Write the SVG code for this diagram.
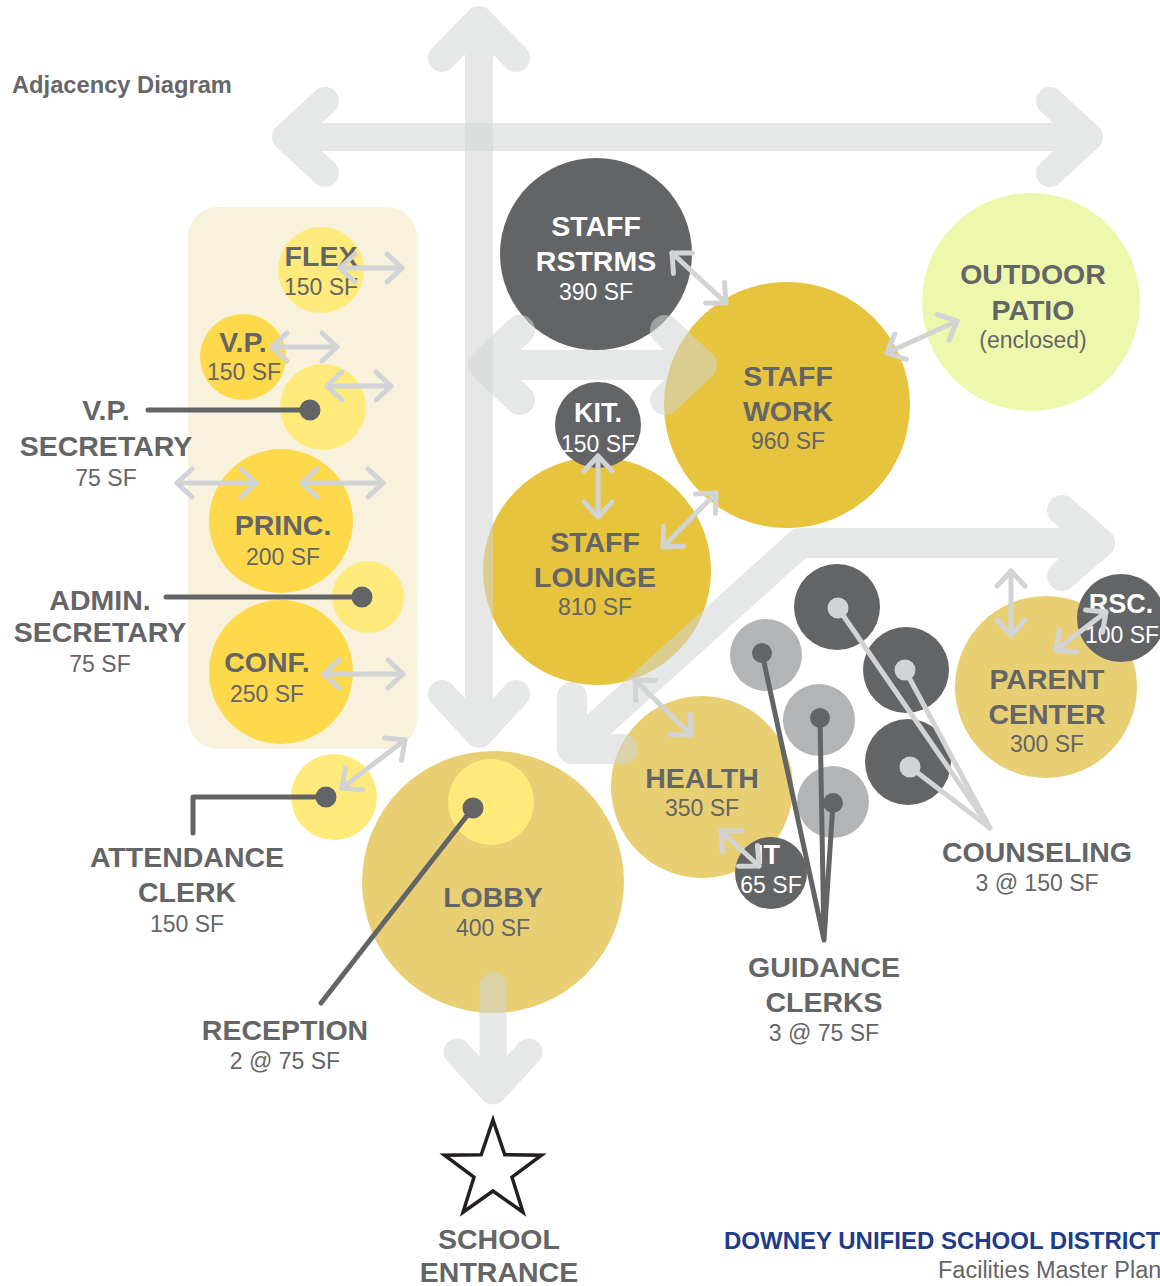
<svg xmlns="http://www.w3.org/2000/svg" width="1160" height="1286" viewBox="0 0 1160 1286">
  <style>
    text { font-family: "Liberation Sans", Arial, Helvetica, sans-serif; }
    .lbl { font-weight: bold; font-size: 28.5px; fill: #646567; text-anchor: middle; }
    .sf { font-size: 23px; fill: #646567; text-anchor: middle; }
    .sm { font-size: 27px; }
    .w { fill: #ffffff; }
    .dark { fill: #636466; }
    .gold { fill: #e6c43e; }
    .tan { fill: #e8cf73; }
    .amber { fill: #ffd94c; }
    .pale { fill: #ffea7b; }
    .patio { fill: #eef8ad; }
    .gray { fill: #b3b4b6; }
    .flow { fill: none; stroke: #d2d6d4; stroke-linecap: round; stroke-linejoin: round; }
    .link { fill: none; stroke: #d1d3d4; stroke-width: 5; stroke-linecap: round; marker-start: url(#ah); marker-end: url(#ah); }
    .lead { fill: none; stroke: #636466; stroke-width: 5; stroke-linecap: round; stroke-linejoin: round; }
    .leadlt { fill: none; stroke: #d1d3d4; stroke-width: 5; stroke-linecap: round; }
  </style>
  <defs>
    <marker id="ah" markerUnits="userSpaceOnUse" markerWidth="40" markerHeight="40" viewBox="-20 -20 40 40" refX="0" refY="0" orient="auto-start-reverse" overflow="visible">
      <path d="M-15,-14 L0,0 L-15,14" fill="none" stroke="#d1d3d4" stroke-width="5" stroke-linecap="round" stroke-linejoin="round"/>
    </marker>
  </defs>

  <rect width="1160" height="1286" fill="#ffffff"/>

  <text x="12" y="93" font-size="23.7" font-weight="bold" fill="#666769">Adjacency Diagram</text>

  <!-- administration suite backdrop -->
  <rect id="admin-suite" x="188" y="207" width="229" height="542" rx="30" fill="#f8f2dc"/>

  <!-- rooms -->
  <g id="staff-rstrms">
    <circle class="dark" cx="596" cy="254" r="96"/>
    <text class="lbl w" x="596" y="236">STAFF</text>
    <text class="lbl w" x="596" y="271">RSTRMS</text>
    <text class="sf w" x="596" y="300">390 SF</text>
  </g>
  <g id="staff-work">
    <circle class="gold" cx="787" cy="405" r="123"/>
    <text class="lbl" x="788" y="386">STAFF</text>
    <text class="lbl" x="788" y="421">WORK</text>
    <text class="sf" x="788" y="449">960 SF</text>
  </g>
  <g id="outdoor-patio">
    <circle class="patio" cx="1031" cy="302" r="109"/>
    <text class="lbl" x="1033" y="284" font-size="29.5">OUTDOOR</text>
    <text class="lbl" x="1033" y="320" font-size="29.5">PATIO</text>
    <text class="sf" x="1033" y="348">(enclosed)</text>
  </g>
  <g id="staff-lounge">
    <circle class="gold" cx="597" cy="571" r="114"/>
    <text class="lbl" x="595" y="552">STAFF</text>
    <text class="lbl" x="595" y="587">LOUNGE</text>
    <text class="sf" x="595" y="615">810 SF</text>
  </g>
  <g id="kit">
    <circle class="dark" cx="598" cy="425" r="43"/>
    <text class="lbl sm w" x="598" y="422">KIT.</text>
    <text class="sf w" x="598" y="452">150 SF</text>
  </g>
  <g id="flex">
    <circle class="pale" cx="321" cy="270" r="43"/>
    <text class="lbl" x="321" y="266">FLEX</text>
    <text class="sf" x="321" y="295">150 SF</text>
  </g>
  <g id="vp">
    <circle class="amber" cx="243" cy="357" r="43"/>
    <text class="lbl" x="243" y="352">V.P.</text>
    <text class="sf" x="244" y="380">150 SF</text>
  </g>
  <g id="vp-secretary">
    <circle class="pale" cx="323" cy="407" r="43"/>
    <text class="lbl" x="106" y="420">V.P.</text>
    <text class="lbl" x="106" y="456">SECRETARY</text>
    <text class="sf" x="106" y="486">75 SF</text>
  </g>
  <g id="princ">
    <circle class="amber" cx="281" cy="521" r="72"/>
    <text class="lbl" x="283" y="535">PRINC.</text>
    <text class="sf" x="283" y="565">200 SF</text>
  </g>
  <g id="admin-secretary">
    <circle class="pale" cx="368" cy="597" r="36"/>
    <text class="lbl" x="100" y="610">ADMIN.</text>
    <text class="lbl" x="100" y="642">SECRETARY</text>
    <text class="sf" x="100" y="672">75 SF</text>
  </g>
  <g id="conf">
    <circle class="amber" cx="281" cy="672" r="72"/>
    <text class="lbl" x="267" y="672">CONF.</text>
    <text class="sf" x="267" y="702">250 SF</text>
  </g>
  <g id="attendance-clerk">
    <circle class="pale" cx="334" cy="797" r="43"/>
    <text class="lbl" x="187" y="867">ATTENDANCE</text>
    <text class="lbl" x="187" y="902">CLERK</text>
    <text class="sf" x="187" y="932">150 SF</text>
  </g>
  <g id="lobby">
    <circle class="tan" cx="493" cy="882" r="131"/>
    <text class="lbl" x="493" y="907">LOBBY</text>
    <text class="sf" x="493" y="936">400 SF</text>
  </g>
  <g id="reception">
    <circle class="pale" cx="491" cy="802" r="43"/>
    <text class="lbl" x="285" y="1040">RECEPTION</text>
    <text class="sf" x="285" y="1069">2 @ 75 SF</text>
  </g>
  <g id="health">
    <circle class="tan" cx="702" cy="787" r="91"/>
    <text class="lbl" x="702" y="788">HEALTH</text>
    <text class="sf" x="702" y="816">350 SF</text>
  </g>
  <g id="it">
    <circle class="dark" cx="771" cy="873" r="36"/>
    <text class="lbl sm w" x="768" y="864">IT</text>
    <text class="sf w" x="771" y="893">65 SF</text>
  </g>
  <g id="parent-center">
    <circle class="tan" cx="1046" cy="687" r="91"/>
    <text class="lbl" x="1047" y="689">PARENT</text>
    <text class="lbl" x="1047" y="724">CENTER</text>
    <text class="sf" x="1047" y="752">300 SF</text>
  </g>
  <g id="rsc">
    <circle class="dark" cx="1121" cy="618" r="44"/>
    <text class="lbl sm w" x="1121" y="613">RSC.</text>
    <text class="sf w" x="1122" y="643">100 SF</text>
  </g>
  <g id="counseling">
    <circle class="dark" cx="837" cy="607" r="43"/>
    <circle class="dark" cx="906" cy="670" r="43"/>
    <circle class="dark" cx="908" cy="762" r="43"/>
    <text class="lbl" x="1037" y="862">COUNSELING</text>
    <text class="sf" x="1037" y="891">3 @ 150 SF</text>
  </g>
  <g id="guidance-clerks">
    <circle class="gray" cx="766" cy="655" r="36"/>
    <circle class="gray" cx="819" cy="720" r="36"/>
    <circle class="gray" cx="833" cy="802" r="36"/>
    <text class="lbl" x="824" y="977">GUIDANCE</text>
    <text class="lbl" x="824" y="1012">CLERKS</text>
    <text class="sf" x="824" y="1041">3 @ 75 SF</text>
  </g>
  <g id="school-entrance">
    <polygon points="493,1120 504.8,1154.8 541.5,1155.2 512,1177.2 523,1212.3 493,1191 463,1212.3 474,1177.2 444.5,1155.2 481.2,1154.8" fill="#ffffff" stroke="#231f20" stroke-width="3.5" stroke-linejoin="miter"/>
    <text class="lbl" x="499" y="1249">SCHOOL</text>
    <text class="lbl" x="499" y="1282">ENTRANCE</text>
  </g>

  <g id="connectors">
    <!-- circulation flows -->
    <g opacity="0.55">
      <path class="flow" stroke-width="28" d="M479,20 L479,732 M442,58 L479,20 L516,58 M442,694 L479,734 L516,694"/>
    </g>
    <g opacity="0.55">
      <path class="flow" stroke-width="28" d="M286,137 L1089,137 M325,101 L286,137 L325,173 M1050,101 L1089,137 L1050,173"/>
    </g>
    <g opacity="0.55">
      <path class="flow" stroke-width="30" d="M483,365 L702,365 M520,330 L483,365 L520,400 M665,330 L702,365 L665,400"/>
    </g>
    <g opacity="0.55">
      <path class="flow" stroke-width="30" d="M576,745 L800,543 L1099,543 M572,697 L572,749 L623,749 M1062,510 L1100,543 L1062,576"/>
    </g>
    <g opacity="0.55">
      <path class="flow" stroke-width="27" d="M493,986 L493,1089 M457,1052 L493,1091 L529,1052"/>
    </g>

    <!-- adjacency links -->
    <line class="link" x1="340" y1="268" x2="402" y2="268"/>
    <line class="link" x1="272" y1="347" x2="337" y2="347"/>
    <line class="link" x1="327" y1="386" x2="391" y2="386"/>
    <line class="link" x1="177" y1="483" x2="256" y2="483"/>
    <line class="link" x1="302" y1="483" x2="383" y2="483"/>
    <line class="link" x1="324" y1="674" x2="403" y2="674"/>
    <line class="link" x1="342" y1="788" x2="405" y2="740"/>
    <line class="link" x1="672" y1="253" x2="726" y2="303"/>
    <line class="link" x1="887" y1="353" x2="957" y2="321"/>
    <line class="link" x1="598" y1="456" x2="598" y2="517"/>
    <line class="link" x1="663" y1="547" x2="716" y2="493"/>
    <line class="link" x1="635" y1="680" x2="691" y2="735"/>
    <line class="link" x1="721" y1="831" x2="759" y2="866"/>
    <line class="link" x1="1011" y1="571" x2="1011" y2="635"/>
    <line class="link" x1="1056" y1="650" x2="1106" y2="612"/>

    <!-- label callouts -->
    <path class="lead" d="M148,410 L310,410"/>
    <circle class="dark" cx="310" cy="410" r="10.5"/>
    <path class="lead" d="M166,597 L362,597"/>
    <circle class="dark" cx="362" cy="597" r="10.5"/>
    <path class="lead" d="M326,797 L193,797 L193,833"/>
    <circle class="dark" cx="326" cy="797" r="10.5"/>
    <path class="lead" d="M473,808 L321,1003"/>
    <circle class="dark" cx="473" cy="808" r="10.5"/>

    <path class="leadlt" d="M838,608 L990,828 M905,670 L990,828 M910,767 L990,828"/>
    <circle fill="#d1d3d4" cx="838" cy="608" r="10.5"/>
    <circle fill="#d1d3d4" cx="905" cy="670" r="10.5"/>
    <circle fill="#d1d3d4" cx="910" cy="767" r="10.5"/>

    <path class="lead" d="M762,653 L824,940 M820,718 L824,940 M833,803 L824,940"/>
    <circle class="dark" cx="762" cy="653" r="10"/>
    <circle class="dark" cx="820" cy="718" r="10"/>
    <circle class="dark" cx="833" cy="803" r="10"/>
  </g>

  <text x="724" y="1249" font-size="24" font-weight="bold" fill="#1f3c8c">DOWNEY UNIFIED SCHOOL DISTRICT</text>
  <text x="938" y="1278" font-size="23.5" fill="#646567">Facilities Master Plan</text>
</svg>
